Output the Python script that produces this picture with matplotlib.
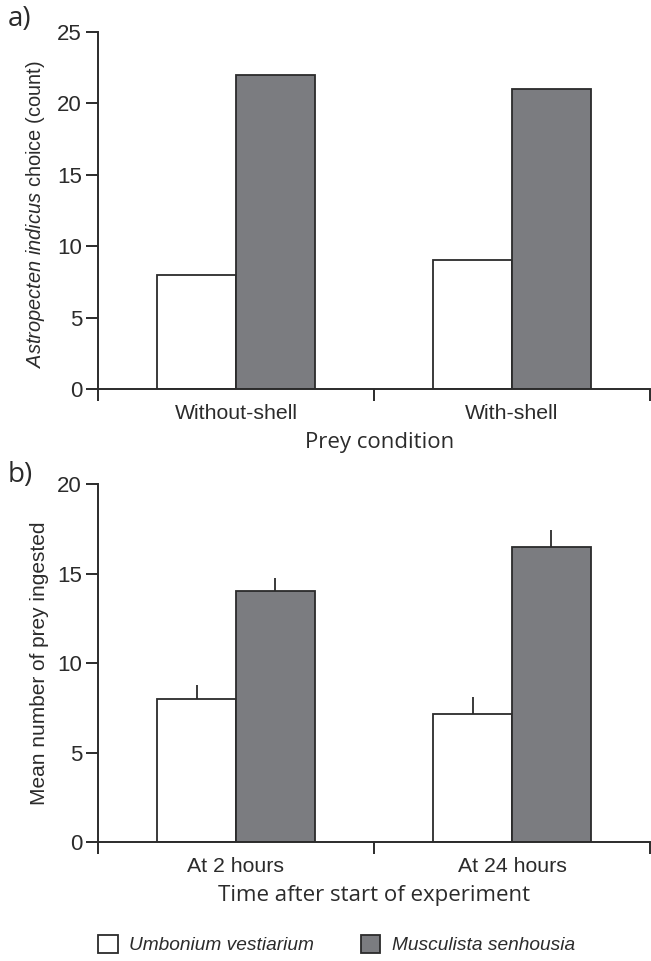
import matplotlib
matplotlib.use("Agg")
import matplotlib.pyplot as plt
from matplotlib.patches import Patch
import numpy as np

# panel a: choice counts
choice_groups = ["Without-shell", "With-shell"]
umbonium_choice = [8, 9]
musculista_choice = [22, 21]

# panel b: mean ingested with SE (upper only)
time_groups = ["At 2 hours", "At 24 hours"]
umbonium_mean = [8.0, 7.15]
umbonium_err = [0.8, 0.95]
musculista_mean = [14.0, 16.5]
musculista_err = [0.75, 0.95]

species = ["Umbonium vestiarium", "Musculista senhousia"]

WHITE = "white"
GREY = "#7b7c80"
DARK = "#2b2b2b"
SANS = "Liberation Sans"
MYRIAD = "Open Sans"

plt.rcParams["font.family"] = SANS
plt.rcParams["mathtext.fontset"] = "custom"
plt.rcParams["mathtext.rm"] = SANS
plt.rcParams["mathtext.it"] = SANS + ":italic"
plt.rcParams["axes.linewidth"] = 1.4
plt.rcParams["axes.edgecolor"] = DARK

fig = plt.figure(figsize=(6.51, 9.61), dpi=100)
ax_a = fig.add_axes([0.1505, 0.5952, 0.848, 0.3715])
ax_b = fig.add_axes([0.1505, 0.1238, 0.848, 0.3725])

w = 0.285


def style_axes(ax, labels, ymax, step):
    x = np.arange(len(labels))
    ax.set_xlim(-0.5, len(labels) - 0.5)
    ax.set_ylim(0, ymax)
    ax.spines["top"].set_visible(False)
    ax.spines["right"].set_visible(False)
    ax.set_xticks(np.arange(len(labels) + 1) - 0.5)
    ax.set_xticklabels([])
    ax.set_xticks(x, minor=True)
    ax.set_xticklabels(labels, minor=True, fontsize=15.3, color=DARK)
    ax.tick_params(axis="x", which="major", length=8.5, width=1.4, color=DARK)
    ax.tick_params(axis="x", which="minor", length=0, pad=11)
    ax.set_yticks(np.arange(0, ymax + 0.1, step))
    ax.tick_params(axis="y", length=8.5, width=1.4, color=DARK,
                   labelsize=16, labelcolor=DARK, pad=3)


# a)
x = np.arange(len(choice_groups))
ax_a.bar(x - w / 2, umbonium_choice, w, color=WHITE, edgecolor=DARK, linewidth=1.3)
ax_a.bar(x + w / 2, musculista_choice, w, color=GREY, edgecolor=DARK, linewidth=1.3)
style_axes(ax_a, choice_groups, 25, 5)
ax_a.set_xlabel("Prey condition", fontfamily=MYRIAD, fontsize=16, color=DARK, labelpad=6)
ax_a.xaxis.label.set_x(0.511)
ax_a.set_ylabel(r"$\it{Astropecten\ indicus}$ choice (count)", fontsize=14.4, color=DARK,
                labelpad=7)
ax_a.yaxis.label.set_y(0.49)
fig.text(0.012, 0.995, "a)", fontfamily=MYRIAD, fontsize=20, color=DARK, va="top")

# b)
x = np.arange(len(time_groups))
ax_b.bar(x - w / 2, umbonium_mean, w, color=WHITE, edgecolor=DARK, linewidth=1.3,
         yerr=[np.zeros(2), umbonium_err], error_kw=dict(ecolor=DARK, elinewidth=1.3, capsize=0))
ax_b.bar(x + w / 2, musculista_mean, w, color=GREY, edgecolor=DARK, linewidth=1.3,
         yerr=[np.zeros(2), musculista_err], error_kw=dict(ecolor=DARK, elinewidth=1.3, capsize=0))
style_axes(ax_b, time_groups, 20, 5)
ax_b.set_xlabel("Time after start of experiment", fontfamily=MYRIAD, fontsize=16,
                color=DARK, labelpad=6)
ax_b.set_ylabel("Mean number of prey ingested", fontsize=15, color=DARK, labelpad=6)
fig.text(0.012, 0.52, "b)", fontfamily=MYRIAD, fontsize=20, color=DARK, va="top")

handles = [Patch(facecolor=WHITE, edgecolor=DARK, linewidth=1.3),
           Patch(facecolor=GREY, edgecolor=DARK, linewidth=1.3)]
fig.legend(handles, species, loc="center", bbox_to_anchor=(0.517, 0.017), ncol=2,
           frameon=False, prop=dict(family=SANS, style="italic", size=13.8),
           handlelength=1.0, handleheight=1.05, handletextpad=0.6, columnspacing=2.45,
           borderpad=0, labelcolor=DARK)

fig.savefig("out.png", dpi=100)
